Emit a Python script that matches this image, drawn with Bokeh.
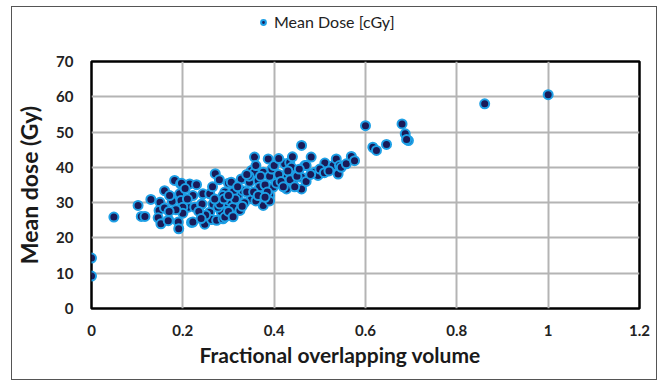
from bokeh.plotting import figure
from bokeh.layouts import column
from bokeh.models import (ColumnDataSource, FixedTicker, Legend, LegendItem,
                          Range1d, Title)
from bokeh.embed import file_html
from bokeh.resources import INLINE

# Data
frac_volume = [
    0.0, 0.0, 0.049, 0.102, 0.109, 0.117, 0.130, 0.150, 0.148, 0.146,
    0.152, 0.160, 0.169, 0.174, 0.177, 0.182, 0.190, 0.191, 0.195, 0.193,
    0.201, 0.206, 0.215, 0.230, 0.222, 0.212, 0.219, 0.226, 0.244, 0.241,
    0.248, 0.259, 0.259, 0.271, 0.263, 0.274, 0.288, 0.266, 0.292, 0.300,
    0.295, 0.284, 0.277, 0.281, 0.292, 0.303, 0.310, 0.306, 0.321, 0.325,
    0.328, 0.332, 0.346, 0.350, 0.350, 0.357, 0.357, 0.387, 0.365, 0.368,
    0.376, 0.376, 0.390, 0.398, 0.401, 0.423, 0.427, 0.441, 0.441, 0.423,
    0.434, 0.438, 0.460, 0.460, 0.460, 0.467, 0.470, 0.481, 0.489, 0.496,
    0.511, 0.529, 0.536, 0.543, 0.540, 0.547, 0.558, 0.569, 0.576, 0.600,
    0.616, 0.624, 0.646, 0.680, 0.687, 0.694, 0.690, 0.861, 1.000,
    0.197, 0.171, 0.196, 0.200, 0.242, 0.288, 0.168, 0.222,
    0.310, 0.315, 0.320, 0.335, 0.340, 0.345, 0.355, 0.360, 0.365, 0.370,
    0.380, 0.385, 0.390, 0.395, 0.405, 0.410, 0.415, 0.420, 0.430, 0.435,
    0.445, 0.450, 0.455, 0.470, 0.480, 0.500, 0.510, 0.520, 0.330, 0.300,
    0.310, 0.270, 0.250, 0.235, 0.240, 0.265, 0.280, 0.290, 0.300, 0.340,
    0.360, 0.400, 0.410, 0.440, 0.390, 0.380, 0.200, 0.185, 0.160, 0.170,
    0.210, 0.205,
]
mean_dose = [
    14.3, 9.2, 25.9, 29.2, 26.1, 26.1, 30.9, 30.1, 27.8, 25.7,
    24.0, 33.4, 25.1, 31.7, 30.4, 36.3, 24.5, 22.6, 35.3, 32.5,
    29.6, 28.9, 35.3, 35.1, 32.0, 28.7, 24.4, 28.7, 32.5, 29.6,
    23.9, 32.5, 27.3, 38.2, 25.2, 25.0, 25.4, 29.6, 33.0, 35.5,
    30.0, 27.5, 28.7, 29.6, 25.9, 30.6, 28.7, 35.8, 32.0, 27.8,
    36.7, 33.4, 35.8, 31.1, 39.1, 38.6, 42.9, 42.4, 36.3, 34.4,
    38.6, 29.2, 32.0, 34.4, 36.7, 37.2, 33.9, 38.2, 35.9, 41.0,
    41.4, 40.0, 46.2, 37.2, 33.9, 40.5, 40.5, 42.9, 38.6, 37.7,
    41.2, 40.5, 42.4, 40.5, 38.1, 40.0, 41.0, 43.1, 41.9, 51.8,
    45.7, 44.8, 46.5, 52.3, 49.5, 47.6, 47.9, 58.0, 60.6,
    35.5, 32.0, 30.6, 28.7, 29.6, 32.0, 24.9, 24.5,
    33.0, 31.0, 34.5, 30.0, 33.0, 37.5, 33.0, 30.5, 32.0, 37.5,
    35.0, 33.0, 37.5, 39.5, 35.5, 38.0, 36.0, 34.5, 39.0, 36.5,
    34.5, 37.5, 39.5, 36.0, 38.0, 39.5, 38.5, 39.0, 29.0, 27.5,
    26.0, 31.0, 26.5, 27.5, 25.5, 34.5, 36.5, 31.0, 32.0, 38.0,
    40.5, 40.5, 42.5, 43.0, 30.5, 31.5, 27.0, 28.0, 28.5, 27.5,
    31.0, 34.0,
]
x_ticks = [0, 0.2, 0.4, 0.6, 0.8, 1.0, 1.2]
x_tick_labels = ["0", "0.2", "0.4", "0.6", "0.8", "1", "1.2"]
y_ticks = [0, 10, 20, 30, 40, 50, 60, 70]
series_name = "Mean Dose [cGy]"
x_title = "Fractional overlapping volume"
y_title = "Mean dose (Gy)"

source = ColumnDataSource(data=dict(x=frac_volume, y=mean_dose))

FONT = "Lato"
FILL = "#1a1b58"
RING = "#1ea0e6"

# --- legend strip (top) ---
top = figure(width=643, height=30, output_backend="svg", toolbar_location=None,
             x_range=Range1d(0, 1), y_range=Range1d(0, 1),
             min_border=0)
top.axis.visible = False
top.grid.visible = False
top.outline_line_color = None
top.background_fill_color = "white"
top.border_fill_color = "white"
# legend key glyph only; its single point lies outside the visible range
ghost = top.scatter(x=[-5], y=[-5], size=9, fill_color=FILL, line_color=RING,
                    line_width=2)
legend = Legend(items=[LegendItem(label=series_name, renderers=[ghost])],
                orientation="horizontal", location=(166, 6),
                border_line_color=None, background_fill_alpha=0,
                label_text_font=FONT, label_text_font_size="16px",
                label_text_color="#222222", glyph_width=12, glyph_height=12,
                label_standoff=5, padding=4, margin=0)
top.add_layout(legend)

# --- main chart ---
p = figure(width=643, height=342, output_backend="svg", toolbar_location=None,
           x_range=(0, 1.2), y_range=(0, 70),
           frame_width=548, frame_height=247,
           min_border_left=78, min_border_right=17,
           min_border_top=24, min_border_bottom=71)
p.background_fill_color = "white"
p.border_fill_color = "white"
p.outline_line_color = "black"
p.outline_line_width = 2.5

p.scatter("x", "y", source=source, size=9, fill_color=FILL,
          line_color=RING, line_width=2)

for ax in (p.xaxis[0], p.yaxis[0]):
    ax.axis_line_color = None
    ax.major_tick_line_color = None
    ax.minor_tick_line_color = None
    ax.major_label_text_font = FONT
    ax.major_label_text_font_style = "bold"
    ax.major_label_text_font_size = "15px"
    ax.major_label_text_color = "#222222"
    ax.axis_label_text_font = FONT
    ax.axis_label_text_font_style = "bold"
    ax.axis_label_text_color = "#1a1a1a"

p.yaxis.axis_label_text_font_size = "23px"
p.xaxis.ticker = FixedTicker(ticks=x_ticks)
p.xaxis.major_label_overrides = {t: l for t, l in zip(x_ticks, x_tick_labels)}
p.yaxis.ticker = FixedTicker(ticks=y_ticks)
p.yaxis.axis_label = y_title
p.xaxis.major_label_standoff = 10
p.yaxis.major_label_standoff = 12
p.yaxis.axis_label_standoff = 10

x_title_obj = Title(text=x_title, align="left", offset=108, standoff=3,
                    text_font=FONT, text_font_style="bold",
                    text_font_size="21px", text_color="#1a1a1a")
p.add_layout(x_title_obj, "below")

p.xgrid.ticker = FixedTicker(ticks=x_ticks)
p.ygrid.ticker = FixedTicker(ticks=y_ticks)
p.grid.grid_line_color = "#b4b4b4"
p.grid.grid_line_width = 2

layout = column(top, p, spacing=0)
layout.margin = (7, 0, 0, 12)
layout.styles = {"outline": "1.5px solid #555555", "background": "white"}

open("out.html", "w").write(file_html(layout, INLINE))
